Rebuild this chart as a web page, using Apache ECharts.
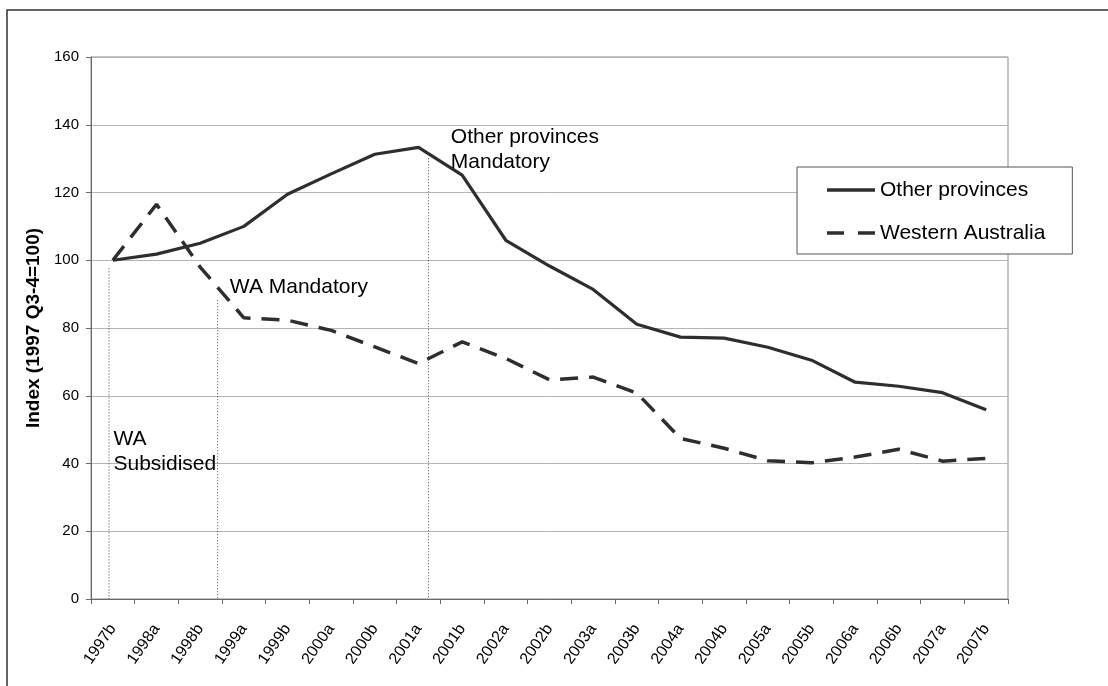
<!DOCTYPE html>
<html>
<head>
<meta charset="utf-8">
<script src="https://cdn.jsdelivr.net/npm/echarts@6/dist/echarts.min.js"></script>
<style>
html,body{margin:0;padding:0;background:#fff;}
#chart{width:1108px;height:686px;}
</style>
</head>
<body>
<div id="chart"></div>
<script>
var categories = ['1997b','1998a','1998b','1999a','1999b','2000a','2000b','2001a','2001b','2002a','2002b','2003a','2003b','2004a','2004b','2005a','2005b','2006a','2006b','2007a','2007b'];
var otherProvinces = [100, 101.8, 105.0, 110.0, 119.5, 125.5, 131.3, 133.3, 125.1, 105.9, 98.3, 91.4, 81.1, 77.3, 77.0, 74.3, 70.5, 64.0, 62.8, 60.9, 55.9];
var westernAustralia = [100, 116.5, 98, 83, 82.3, 79.3, 74.4, 69.5, 75.9, 71, 64.7, 65.5, 60.8, 47.4, 44.5, 40.8, 40.2, 41.9, 44.2, 40.7, 41.5];
var yTicks = [0, 20, 40, 60, 80, 100, 120, 140, 160];
// annotation markers: position in category-band units, top value
var markerX = [0.412, 2.90, 7.73];
var markerTop = [97.6, 88.2, 130.1];
var noteTexts = ['WA\nSubsidised', 'WA Mandatory', 'Other provinces\nMandatory'];
var noteX = [0.515, 3.18, 8.24];
var noteY = [51.0, 95.8, 140.0];

var FONT = 'Liberation Sans, Arial, sans-serif';
var chart = echarts.init(document.getElementById('chart'), null, {renderer: 'canvas'});

var markerSeries = markerX.map(function (mx, i) {
  return {
    name: 'marker' + i,
    type: 'line',
    xAxisIndex: 1,
    yAxisIndex: 0,
    data: [[mx, markerTop[i]], [mx, 0]],
    symbol: 'none',
    silent: true,
    lineStyle: {color: '#444', width: 1, type: [1, 2]},
    z: 1
  };
});

var option = {
  animation: false,
  backgroundColor: '#fff',
  grid: {left: 91, right: 100, top: 57, bottom: 87, show: true, borderColor: '#8a8a8a', borderWidth: 1, outerBoundsMode: 'none'},
  legend: {
    data: [
      {name: 'Other provinces', icon: 'path://M0,0h48v3.5h-48z'},
      {name: 'Western Australia', icon: 'path://M0,0h17v3.5h-17zM31,0h17v3.5h-17z'}
    ],
    orient: 'vertical',
    left: 797, top: 167,
    padding: [12, 27, 10, 30],
    itemWidth: 48, itemHeight: 14, itemGap: 21,
    backgroundColor: '#fff',
    borderColor: '#555', borderWidth: 1,
    textStyle: {fontSize: 21, color: '#000', fontFamily: FONT, lineHeight: 22}
  },
  xAxis: [{
    type: 'category',
    data: categories,
    boundaryGap: true,
    axisLine: {lineStyle: {color: '#6a6a6a', width: 1}},
    axisTick: {show: true, interval: 0, length: 5, lineStyle: {color: '#6a6a6a'}},
    axisLabel: {interval: 0, rotate: 55, fontSize: 16, color: '#000', fontFamily: FONT, margin: 27},
    splitLine: {show: false}
  }, {
    type: 'value',
    min: 0, max: 21,
    show: false,
    splitLine: {show: false}
  }],
  yAxis: {
    type: 'value',
    min: yTicks[0], max: yTicks[yTicks.length - 1], interval: 20,
    name: 'Index (1997 Q3-4=100)',
    nameLocation: 'middle',
    nameRotate: 90,
    nameGap: 43,
    nameTextStyle: {fontSize: 19, fontWeight: 'bold', color: '#000', fontFamily: FONT},
    axisLine: {show: true, lineStyle: {color: '#6a6a6a'}},
    axisTick: {show: true, length: 5, lineStyle: {color: '#6a6a6a'}},
    axisLabel: {fontSize: 15, color: '#000', fontFamily: FONT, margin: 12},
    splitLine: {show: true, lineStyle: {color: '#b4b4b4', width: 1}}
  },
  series: [{
    name: 'Other provinces',
    type: 'line',
    data: otherProvinces,
    symbol: 'none',
    lineStyle: {color: '#2e2e2e', width: 3.2, type: 'solid'},
    itemStyle: {color: '#2e2e2e'},
    z: 3
  }, {
    name: 'Western Australia',
    type: 'line',
    data: westernAustralia,
    symbol: 'none',
    lineStyle: {color: '#2e2e2e', width: 3.5, type: [18, 11]},
    itemStyle: {color: '#2e2e2e'},
    z: 3
  }].concat(markerSeries)
};
chart.setOption(option);

var graphics = [{
  type: 'rect',
  shape: {x: 7, y: 10, width: 1300, height: 900},
  style: {fill: null, stroke: '#333', lineWidth: 1.5},
  silent: true
}];
noteTexts.forEach(function (t, i) {
  var p = chart.convertToPixel({seriesIndex: 2}, [noteX[i], noteY[i]]);
  graphics.push({
    type: 'text',
    x: p[0], y: p[1],
    style: {text: t, fontSize: 21, fontFamily: FONT, fill: '#000', lineHeight: 25, align: 'left', verticalAlign: 'top'},
    silent: true,
    z: 10
  });
});
chart.setOption({graphic: graphics});
</script>
</body>
</html>
